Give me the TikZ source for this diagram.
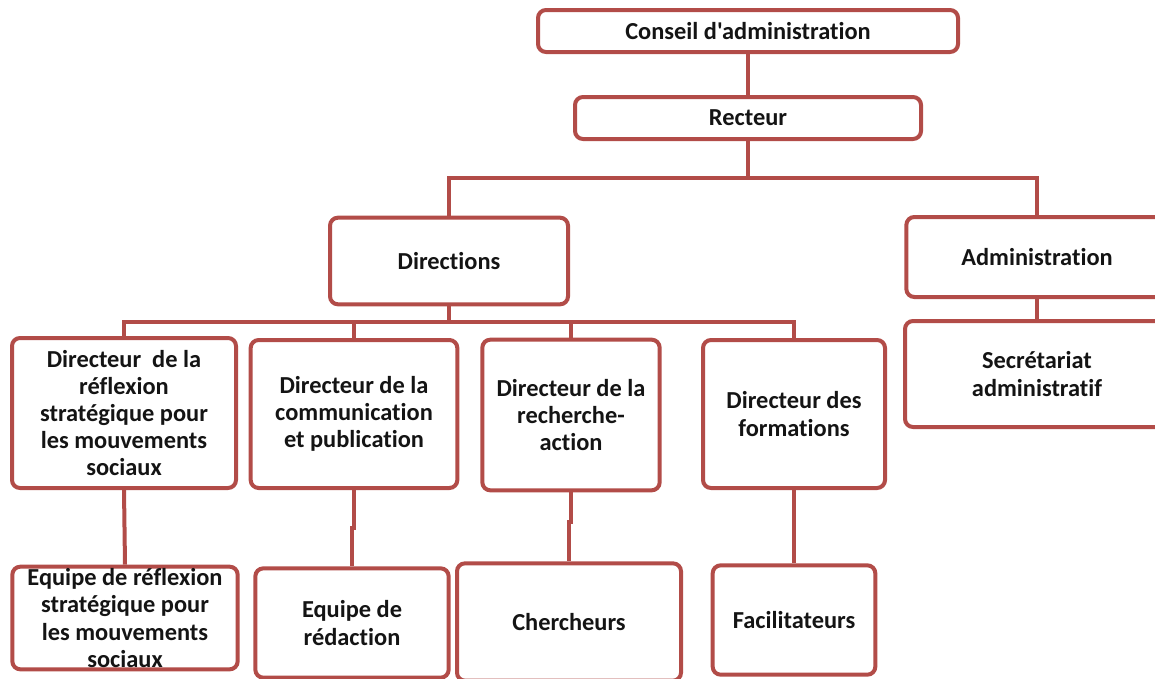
\documentclass[tikz,border=0pt]{standalone}
\usepackage{fontspec}
\setmainfont{Carlito}[Ligatures={NoCommon,TeXOff}]
\definecolor{brd}{RGB}{178,76,72}
\definecolor{ink}{RGB}{20,20,20}
\tikzset{
  unit/.style={x=0.75pt,y=-0.75pt},
  orgbox/.style={draw=brd, line width=3pt, rounded corners=6pt, fill=white,
    align=center, inner sep=0pt, text=ink,
    font=\fontsize{18.3}{20.3}\selectfont\bfseries},
  link/.style={draw=brd, line width=3pt}
}
\begin{document}
\begin{tikzpicture}[unit]
\useasboundingbox (0,0) rectangle (1155,678);
\begin{scope}
\clip (0,0) rectangle (1155,678);
\coordinate (bus1) at (748,178);
\coordinate (bus2) at (449,322);

% top levels
\node[orgbox, minimum width=315pt, minimum height=31.5pt] (conseil) at (748,31) {Conseil d'administration};
\node[orgbox, minimum width=259.5pt, minimum height=31.5pt] (recteur) at (748,118) {Recteur};

% second level
\node[orgbox, minimum width=178.5pt, minimum height=65pt] (directions) at (449,261) {Directions};
\node[orgbox, minimum width=196pt, minimum height=60pt] (admin) at (1037,257) {Administration};
\node[orgbox, minimum width=198pt, minimum height=79.5pt] (secr) at (1037,374) {Secrétariat\\administratif};

% directors
\node[orgbox, minimum width=168pt, minimum height=112.5pt] (d1) at (124,413) {Directeur \ de la\\réflexion\\stratégique pour\\les mouvements\\sociaux};
\node[orgbox, minimum width=155pt, minimum height=111pt] (d2) at (354,414) {Directeur de la\\communication\\et publication};
\node[orgbox, minimum width=133pt, minimum height=113pt] (d3) at (571,415) {Directeur de la\\recherche-\\action};
\node[orgbox, minimum width=136.5pt, minimum height=111pt] (d4) at (794,414) {Directeur des\\formations};

% teams
\node[orgbox, minimum width=169pt, minimum height=77pt] (e1) at (125,618) {Equipe de réflexion\\stratégique pour\\les mouvements\\sociaux};
\node[orgbox, minimum width=145pt, minimum height=82pt] (e2) at (352,623) {Equipe de\\rédaction};
\node[orgbox, minimum width=168pt, minimum height=88pt] (e3) at (569,622) {Chercheurs};
\node[orgbox, minimum width=122pt, minimum height=82pt] (e4) at (794,620) {Facilitateurs};

% links
\draw[link] (conseil.south) -- (recteur.north);
\draw[link] (recteur.south) -- (bus1);
\draw[link] (directions.north) |- (bus1) -| (admin.north);
\draw[link] (admin.south) -- (secr.north);
\draw[link] (directions.south) -- (bus2);
\draw[link] (d1.north) |- (bus2);
\draw[link] (bus2) -| (d2.north);
\draw[link] (bus2) -| (d3.north);
\draw[link] (bus2) -| (d4.north);
\draw[link] (d1.south) -- (e1.north);
\draw[link] (d2.south) -- ++(0,38) -| (e2.north);
\draw[link] (d3.south) -- ++(0,30) -| (e3.north);
\draw[link] (d4.south) -- (e4.north);
\end{scope}
\end{tikzpicture}
\end{document}
